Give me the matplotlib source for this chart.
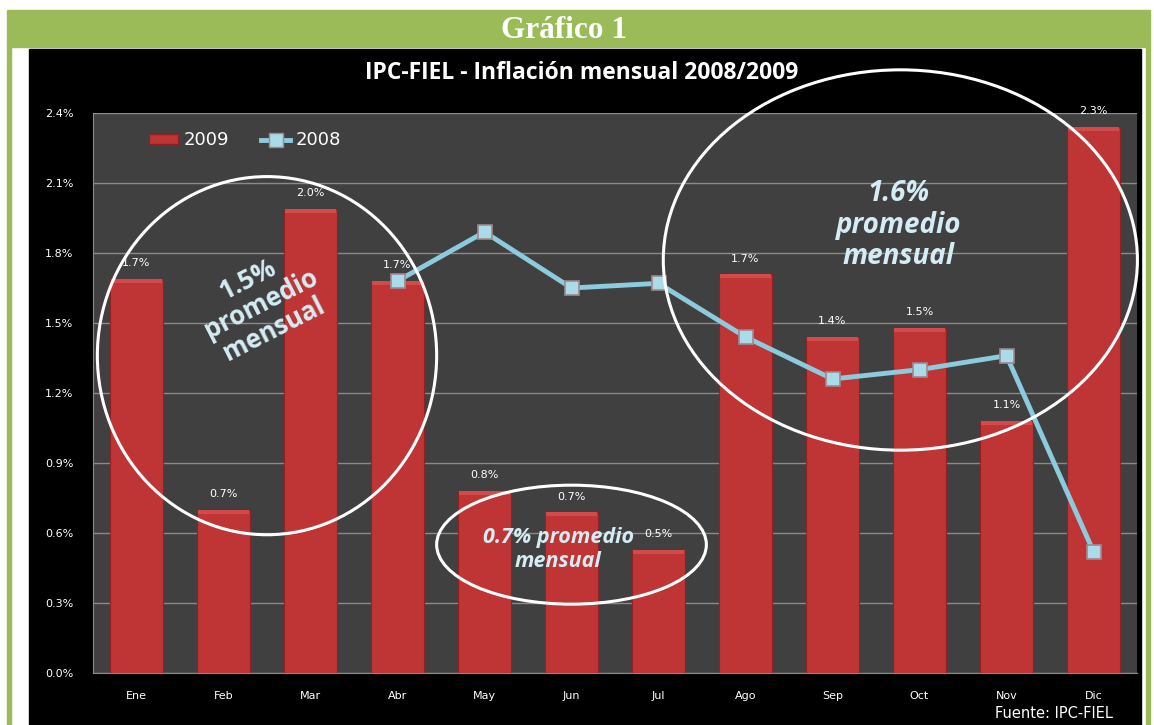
import numpy as np
import matplotlib
matplotlib.use("Agg")
import matplotlib.pyplot as plt
from matplotlib.patches import Ellipse, Rectangle
from matplotlib.lines import Line2D
from matplotlib.ticker import FuncFormatter

months = ["Ene", "Feb", "Mar", "Abr", "May", "Jun", "Jul", "Ago", "Sep", "Oct", "Nov", "Dic"]
infl_2009 = [1.69, 0.70, 1.99, 1.68, 0.78, 0.69, 0.53, 1.71, 1.44, 1.48, 1.08, 2.34]
labels_2009 = ["1.7%", "0.7%", "2.0%", "1.7%", "0.8%", "0.7%", "0.5%", "1.7%", "1.4%", "1.5%", "1.1%", "2.3%"]
infl_2008 = [np.nan, np.nan, np.nan, 1.68, 1.89, 1.65, 1.67, 1.44, 1.26, 1.30, 1.36, 0.52]
yticks = [0.0, 0.3, 0.6, 0.9, 1.2, 1.5, 1.8, 2.1, 2.4]

green = "#9bbb59"
bar_red = "#bf3535"
line_blue = "#8ccbde"
note_blue = "#d4ecf4"

fig = plt.figure(figsize=(11.54, 7.25), dpi=100)
W, H = 1154, 725

# frame: green header + side lines + black panel
def px_rect(x0, y0, x1, y1, color):
    fig.patches.append(Rectangle((x0 / W, 1 - y1 / H), (x1 - x0) / W, (y1 - y0) / H,
                                 transform=fig.transFigure, color=color, zorder=-10))

px_rect(7, 10, 1150, 47, green)
px_rect(7, 47, 11, 725, green)
px_rect(1146, 47, 1150, 725, green)
px_rect(29, 49, 1141, 725, "black")
fig.text(564 / W, 1 - 31 / H, "Gráfico 1", color="white", fontsize=22.5, fontweight="bold",
         family="Liberation Serif", ha="center", va="center")

ax = fig.add_axes([93 / W, 1 - 673 / H, 1044 / W, 560 / H])
ax.set_facecolor("#404040")
x = np.arange(len(months))
bars = ax.bar(x, infl_2009, width=0.6, color=bar_red, edgecolor="#8e2222", linewidth=0.8,
              label="2009", zorder=2)
# subtle lighter top bevel on bars
for xi, v in zip(x, infl_2009):
    ax.add_patch(Rectangle((xi - 0.29, v - 0.018), 0.58, 0.016, color="#d24a4a", zorder=3, lw=0))
line, = ax.plot(x, infl_2008, color=line_blue, lw=3.5, marker="s", markersize=9.5,
                markerfacecolor="#a9dbe9", markeredgecolor="#a08890", markeredgewidth=1.2,
                label="2008", zorder=4)

for xi, v, lab in zip(x, infl_2009, labels_2009):
    ax.text(xi, v + 0.045, lab, color="white", fontsize=8, ha="center", va="bottom",
            family="DejaVu Sans", zorder=5)

ax.set_xlim(-0.5, 11.5)
ax.set_ylim(0, 2.4)
ax.set_yticks(yticks)
ax.yaxis.set_major_formatter(FuncFormatter(lambda v, p: f"{v:.1f}%"))
ax.set_xticks(x)
ax.set_xticklabels(months)
ax.tick_params(colors="white", labelsize=8, length=0)
ax.tick_params(axis="x", pad=13)
ax.tick_params(axis="y", pad=14)
ax.grid(axis="y", color="#8a8a8a", lw=1, zorder=1)
ax.set_axisbelow(True)
for side in ["top", "right"]:
    ax.spines[side].set_visible(False)
for side in ["left", "bottom"]:
    ax.spines[side].set_color("#8a8a8a")

fig.text(582 / W, 1 - 73 / H, "IPC-FIEL - Inflación mensual 2008/2009", color="white",
         fontsize=16.5, fontweight="bold", family="Open Sans", ha="center", va="center")
fig.text(1113 / W, 1 - 713 / H, "Fuente: IPC-FIEL", color="white", fontsize=10.5,
         ha="right", va="center")

handles = [Rectangle((0, 0), 1, 1, color=bar_red, ec="#8e2222"),
           Line2D([], [], color=line_blue, lw=3.5, marker="s", markersize=9.5,
                  markerfacecolor="#a9dbe9", markeredgecolor="#a08890")]
leg = ax.legend(handles, ["2009", "2008"], loc="upper left", bbox_to_anchor=(0.038, 0.996),
                ncol=2, frameon=False, fontsize=13, labelcolor="white", handlelength=1.6,
                handleheight=0.5, columnspacing=1.8, handletextpad=0.3)

# annotation ellipses
ax.add_patch(Ellipse((1.5, 1.36), 3.9, 1.535, fill=False, ec="white", lw=2.2, zorder=6, clip_on=False))
ax.add_patch(Ellipse((5.0, 0.55), 3.1, 0.51, fill=False, ec="white", lw=2.2, zorder=6, clip_on=False))
ax.add_patch(Ellipse((8.78, 1.77), 5.45, 1.63, fill=False, ec="white", lw=2.2, zorder=6, clip_on=False))

ax.text(1.43, 1.58, "1.5%\npromedio\nmensual", color=note_blue, fontsize=18.5, fontweight="bold",
        family="Open Sans", rotation=27, ha="center", va="center", linespacing=1.05, zorder=7)
ax.text(4.85, 0.53, "0.7% promedio\nmensual", color=note_blue, fontsize=15.5, fontweight="bold",
        style="italic", family="Open Sans", ha="center", va="center", linespacing=1.15, zorder=7)
ax.text(8.76, 1.92, "1.6%\npromedio\nmensual", color=note_blue, fontsize=20, fontweight="bold",
        style="italic", family="Open Sans", ha="center", va="center", linespacing=1.1, zorder=7)

fig.savefig("out.png", dpi=100, facecolor="white")
